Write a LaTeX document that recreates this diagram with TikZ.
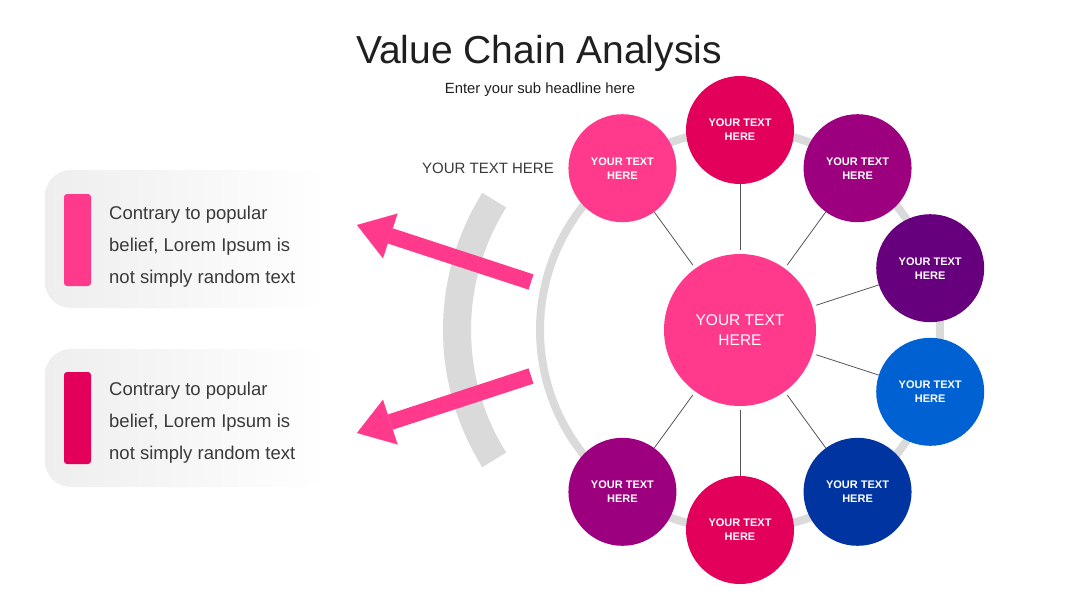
\documentclass[tikz,border=0pt]{standalone}
\usepackage{fontspec}
\setmainfont{Liberation Sans}
\usetikzlibrary{arrows.meta, positioning, calc}

\definecolor{vcPink}{HTML}{FF3A8C}
\definecolor{vcCrimson}{HTML}{E2005A}
\definecolor{vcMagenta}{HTML}{9C007F}
\definecolor{vcPurple}{HTML}{67007C}
\definecolor{vcBlue}{HTML}{0061D2}
\definecolor{vcNavy}{HTML}{0034A0}
\definecolor{ringGray}{HTML}{DADADA}
\definecolor{spokeGray}{HTML}{555555}
\definecolor{boxGray}{HTML}{EEEEEE}
\definecolor{inkGray}{HTML}{3A3A3A}

\begin{document}
\begin{tikzpicture}[x=1pt, y=-1pt,
		bubble/.style={circle, minimum size=108pt, inner sep=0pt, text=white, align=center,
			font=\bfseries\fontsize{11}{14}\selectfont},
		hubbubble/.style={circle, minimum size=152pt, inner sep=0pt, text=white, align=center,
			fill=vcPink, font=\fontsize{15.5}{19.5}\selectfont},
		spoke/.style={draw=spokeGray, line width=0.8pt, shorten <=4pt},
		ringline/.style={draw=ringGray, line width=8pt},
		pinkarrow/.style={draw=vcPink, line width=16pt,
			-{Triangle[length=35pt, width=47pt, line width=0.1pt]}},
		infobox/.style={rounded corners=26pt, minimum width=285pt, minimum height=138pt,
			inner sep=0pt, left color=boxGray, middle color=boxGray!75!white, right color=white},
		bar/.style={rounded corners=3pt, minimum width=27pt, minimum height=92pt, inner sep=0pt},
		boxtext/.style={align=left, inner sep=0pt, text=inkGray, font=\fontsize{18.5}{31.7}\selectfont}]
	
	% canvas
	\useasboundingbox (0,0) rectangle (1080,608);
	\fill[white] (0,0) rectangle (1080,608);
	
	% ---------------------------------------------------------
	% Headline
	% ---------------------------------------------------------
	\node[anchor=base, text=black!88, font=\fontsize{39}{44}\selectfont] (title) at (539,63) {Value Chain Analysis};
	\node[anchor=base, text=black!88, font=\fontsize{14.8}{18}\selectfont] (subtitle) at (540,93) {Enter your sub headline here};
	\node[anchor=base, text=inkGray, font=\fontsize{15}{18}\selectfont] (label) at (488,173) {YOUR TEXT HERE};
	
	% ---------------------------------------------------------
	% Wheel: ring, hub, bubbles, spokes
	% ---------------------------------------------------------
	\coordinate (ctr) at (740,330);
	\draw[ringline] (ctr) circle (200);
	
	% Left crescent
	\draw[ringGray, line width=28pt] (702,330) ++(148:245) arc (148:212:245);
	
	\node[hubbubble] (hub) at (ctr) {YOUR TEXT\\HERE};
	
	% Bubbles every 36 degrees, the two left slots stay empty
	\foreach \n/\a/\col in {1/-126/vcPink, 2/-90/vcCrimson, 3/-54/vcMagenta, 4/-18/vcPurple,
		5/18/vcBlue, 6/54/vcNavy, 7/90/vcCrimson, 8/126/vcMagenta}
	{
		\node[bubble, fill=\col] (c\n) at ($(ctr)+(\a:200)$) {YOUR TEXT\\HERE};
		\draw[spoke] (hub) -- (c\n);
	}
	
	% ---------------------------------------------------------
	% Arrows out of the wheel
	% ---------------------------------------------------------
	\coordinate (a1s) at (531,282);
	\coordinate (a1e) at (357,225);
	\coordinate (a2s) at (531,376);
	\coordinate (a2e) at (357,433);
	\draw[pinkarrow] (a1s) -- (a1e);
	\draw[pinkarrow] (a2s) -- (a2e);
	
	% ---------------------------------------------------------
	% Text boxes (base anchor sits on the last line)
	% ---------------------------------------------------------
	\node[infobox] (box1) at (187.5,239) {};
	\node[bar, fill=vcPink] (bar1) at (77.5,240) {};
	\node[boxtext, anchor=base west] (txt1) at (109,283) {Contrary to popular\\belief, Lorem Ipsum is\\not simply random text};
	
	\node[infobox] (box2) at (187.5,418) {};
	\node[bar, fill=vcCrimson] (bar2) at (77.5,418) {};
	\node[boxtext, anchor=base west] (txt2) at (109,459) {Contrary to popular\\belief, Lorem Ipsum is\\not simply random text};
	
\end{tikzpicture}
\end{document}
